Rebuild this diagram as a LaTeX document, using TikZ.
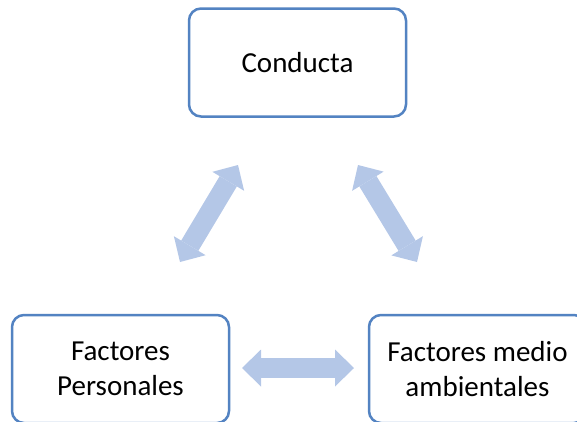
\documentclass[tikz,border=0pt]{standalone}
\usepackage{fontspec}
\setmainfont{Carlito}
\usetikzlibrary{arrows.meta}
\definecolor{boxblue}{RGB}{83,131,194}
\definecolor{arrowblue}{RGB}{180,199,231}
\begin{document}
\begin{tikzpicture}[x=1pt,y=1pt,
  box/.style={draw=boxblue, line width=2.5pt, rounded corners=12pt, fill=white,
    minimum width=217pt, minimum height=108pt, align=center, inner sep=0pt,
    font=\fontsize{29}{35}\selectfont, text=black},
  bigarrow/.style={draw=arrowblue, line width=20pt,
    {Triangle[width=37pt 0 0,length=19pt 0 0,line width=0pt 0 0]}-{Triangle[width=37pt 0 0,length=19pt 0 0,line width=0pt 0 0]}}]
\useasboundingbox (0,0) rectangle (577,-421);
\node[box] (cond) at (297.5,-62.5) {Conducta};
\node[box] (pers) at (120.5,-369) {Factores\\Personales};
\node[box] (amb) at (477.5,-369) {Factores medio\\ambientales};
\coordinate (l1) at (180,-262);
\coordinate (l2) at (238,-165);
\coordinate (r1) at (358,-165);
\coordinate (r2) at (417,-262);
\coordinate (h1) at (242,-368);
\coordinate (h2) at (354,-368);
\draw[bigarrow] (l1) -- (l2);
\draw[bigarrow] (r1) -- (r2);
\draw[bigarrow] (h1) -- (h2);
\end{tikzpicture}
\end{document}
